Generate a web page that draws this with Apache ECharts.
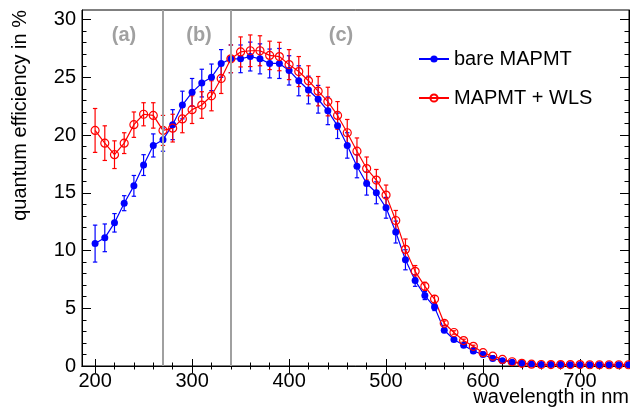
<!DOCTYPE html>
<html>
<head>
<meta charset="utf-8">
<script src="https://cdn.jsdelivr.net/npm/echarts@6/dist/echarts.min.js"></script>
<style>html,body{margin:0;padding:0;background:#fff;}#chart{width:630px;height:407px;}</style>
</head>
<body>
<div id="chart"></div>
<script>
const wavelengths = [200,210,220,230,240,250,260,270,280,290,300,310,320,330,340,350,360,370,380,390,400,410,420,430,440,450,460,470,480,490,500,510,520,530,540,550,560,570,580,590,600,610,620,630,640,650,660,670,680,690,700,710,720,730,740,750];
const bareQE = [10.6,11.1,12.4,14.1,15.6,17.4,19.1,19.6,20.9,22.6,23.7,24.5,25.0,26.2,26.6,26.6,26.8,26.6,26.2,26.2,25.6,24.7,23.9,23.1,22.1,20.8,19.1,17.3,15.8,15.0,13.7,11.6,9.2,7.4,6.1,5.1,3.1,2.3,1.8,1.3,1.0,0.65,0.46,0.33,0.23,0.17,0.13,0.12,0.12,0.1,0.1,0.1,0.1,0.1,0.1,0.1];
const bareErr = [1.6,1.2,0.8,0.65,0.9,0.9,1.0,1.0,1.3,1.2,1.2,1.2,1.15,1.2,1.2,1.2,1.25,1.3,1.25,1.3,1.27,1.3,1.2,1.2,1.2,1.1,1.1,1.0,1.0,0.95,0.9,0.95,0.87,0.5,0.35,0.3,0.2,0.15,0.12,0.1,0.08,0.05,0.04,0.03,0.02,0.02,0.02,0.02,0.02,0.02,0.02,0.02,0.02,0.02,0.02,0.02];
const wlsQE = [20.4,19.3,18.3,19.3,20.9,21.8,21.7,20.4,20.6,21.4,22.2,22.6,23.4,24.9,26.6,27.2,27.3,27.3,26.9,26.8,26.1,25.5,24.7,23.8,22.9,21.7,20.2,18.6,17.1,16.1,14.8,12.6,10.1,8.2,6.9,5.8,3.7,2.9,2.2,1.7,1.15,0.85,0.57,0.37,0.23,0.16,0.13,0.12,0.12,0.12,0.12,0.11,0.11,0.11,0.11,0.11];
const wlsErr = [1.9,1.5,1.2,0.9,1.1,1.0,1.1,1.3,1.2,1.2,1.2,1.15,1.3,1.3,1.2,1.3,1.37,1.3,1.23,1.23,1.3,1.3,1.3,1.27,1.24,1.2,1.15,1.15,1.0,0.92,0.87,0.87,0.9,0.5,0.35,0.3,0.2,0.15,0.12,0.1,0.08,0.05,0.04,0.03,0.02,0.02,0.02,0.02,0.02,0.02,0.02,0.02,0.02,0.02,0.02,0.02];
const seriesNames = ['bare MAPMT', 'MAPMT + WLS'];
const xTickValues = [200,300,400,500,600,700];
const xMinorTicks = [200,220,240,260,280,300,320,340,360,380,400,420,440,460,480,500,520,540,560,580,600,620,640,660,680,700,720,740];
const yTickValues = [0,5,10,15,20,25,30];
const yMinorTicks = [0,1,2,3,4,5,6,7,8,9,10,11,12,13,14,15,16,17,18,19,20,21,22,23,24,25,26,27,28,29,30];
const regionBounds = [270, 340];
const regionLabels = ['(a)', '(b)', '(c)'];
const xTitle = 'wavelength in nm';
const yTitle = 'quantum efficiency in %';

const FONT = 'Liberation Sans, Arial, Helvetica, sans-serif';
const X_MIN = 186.5, X_MAX = 750.5, Y_MIN = 0, Y_MAX = 30.83;

function xAx(pos, ticks, len, labels, line) {
  return {
    type: 'value', min: X_MIN, max: X_MAX, position: pos,
    axisLine: { show: line, lineStyle: { color: '#000', width: 1 } },
    axisTick: { show: true, inside: true, length: len, customValues: ticks, lineStyle: { color: '#000', width: 1 } },
    axisLabel: { show: labels, customValues: ticks, fontSize: 20, color: '#000', fontFamily: FONT, margin: 5 },
    splitLine: { show: false }
  };
}
function yAx(pos, ticks, len, labels, line) {
  return {
    type: 'value', min: Y_MIN, max: Y_MAX, position: pos,
    axisLine: { show: line, lineStyle: { color: '#000', width: 1 } },
    axisTick: { show: true, inside: true, length: len, customValues: ticks, lineStyle: { color: '#000', width: 1 } },
    axisLabel: { show: labels, customValues: ticks, fontSize: 20, color: '#000', fontFamily: FONT, margin: 6 },
    splitLine: { show: false }
  };
}

function errSeries(vals, errs, color, name) {
  return {
    type: 'custom', name: name + ' err', xAxisIndex: 0, yAxisIndex: 0,
    data: wavelengths.map((w, i) => [w, vals[i] - errs[i], vals[i] + errs[i]]),
    encode: { x: 0, y: [1, 2] },
    silent: true,
    renderItem: function (params, api) {
      const a = api.coord([api.value(0), api.value(1)]);
      const b = api.coord([api.value(0), api.value(2)]);
      const c = 2.2;
      const st = { stroke: color, lineWidth: 1.2 };
      return { type: 'group', children: [
        { type: 'line', shape: { x1: a[0], y1: a[1], x2: b[0], y2: b[1] }, style: st },
        { type: 'line', shape: { x1: a[0] - c, y1: a[1], x2: a[0] + c, y2: a[1] }, style: st },
        { type: 'line', shape: { x1: b[0] - c, y1: b[1], x2: b[0] + c, y2: b[1] }, style: st }
      ] };
    }
  };
}

const chart = echarts.init(document.getElementById('chart'), null, { renderer: 'canvas' });
chart.setOption({
  animation: false,
  backgroundColor: '#fff',
  grid: { left: 82, right: 1, top: 10, bottom: 41, show: true, borderColor: '#000', borderWidth: 1, backgroundColor: 'transparent' },
  xAxis: [
    xAx('bottom', xTickValues, 7, true, true),
    xAx('bottom', xMinorTicks, 3.5, false, false),
    xAx('top', xTickValues, 7, false, true),
    xAx('top', xMinorTicks, 3.5, false, false)
  ],
  yAxis: [
    yAx('left', yTickValues, 9, true, true),
    yAx('left', yMinorTicks, 4.5, false, false),
    yAx('right', yTickValues, 9, false, true),
    yAx('right', yMinorTicks, 4.5, false, false)
  ],
  legend: {
    data: seriesNames, orient: 'vertical', left: 413, top: 44,
    itemWidth: 30, itemHeight: 9, itemGap: 19,
    textStyle: { fontSize: 20, color: '#000', fontFamily: FONT }
  },
  series: [
    Object.assign(errSeries(bareQE, bareErr, '#0000ff', seriesNames[0]), {
      markLine: {
        silent: true, symbol: 'none', label: { show: false },
        lineStyle: { color: '#a0a0a0', width: 2, type: 'solid' },
        data: regionBounds.map(v => ({ xAxis: v }))
      }
    }),
    {
      type: 'line', name: seriesNames[0],
      data: wavelengths.map((w, i) => [w, bareQE[i]]),
      symbol: 'circle', symbolSize: 7,
      itemStyle: { color: '#0000ff' },
      lineStyle: { color: '#0000ff', width: 1.2 }
    },
    errSeries(wlsQE, wlsErr, '#ff0000', seriesNames[1]),
    {
      type: 'line', name: seriesNames[1],
      data: wavelengths.map((w, i) => [w, wlsQE[i]]),
      symbol: 'circle', symbolSize: 8,
      itemStyle: { color: 'rgba(255,255,255,0)', borderColor: '#ff0000', borderWidth: 1.2 },
      lineStyle: { color: '#ff0000', width: 1.2 }
    }
  ],
  graphic: [
    { type: 'text', x: 20, y: 10, rotation: Math.PI / 2,
      style: { text: yTitle, font: '20px ' + FONT, fill: '#000', align: 'right', verticalAlign: 'middle' } },
    { type: 'text', x: 629, y: 397,
      style: { text: xTitle, font: '20px ' + FONT, fill: '#000', align: 'right', verticalAlign: 'middle' } },
    { type: 'text', x: 124, y: 35, style: { text: regionLabels[0], font: 'bold 20px ' + FONT, fill: '#a0a0a0', align: 'center', verticalAlign: 'middle' } },
    { type: 'text', x: 199, y: 35, style: { text: regionLabels[1], font: 'bold 20px ' + FONT, fill: '#a0a0a0', align: 'center', verticalAlign: 'middle' } },
    { type: 'text', x: 341, y: 35, style: { text: regionLabels[2], font: 'bold 20px ' + FONT, fill: '#a0a0a0', align: 'center', verticalAlign: 'middle' } }
  ]
});
</script>
</body>
</html>
